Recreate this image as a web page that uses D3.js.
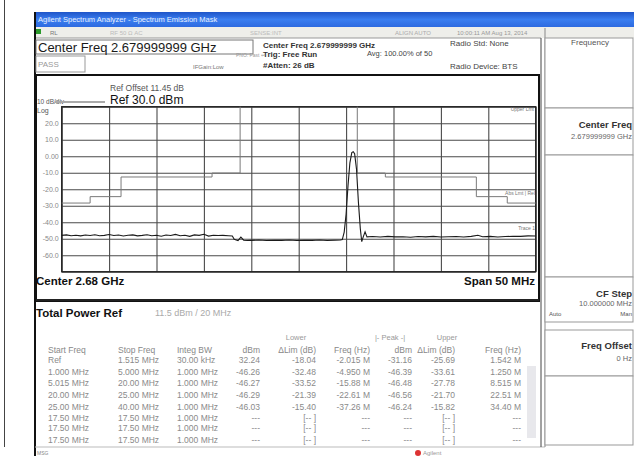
<!DOCTYPE html>
<html><head><meta charset="utf-8">
<script src="https://cdn.jsdelivr.net/npm/d3@7"></script>
<style>
body{margin:0;background:#fff}
svg{display:block}
text{font-family:"Liberation Sans",Arial,sans-serif}
</style>
</head><body>
<svg id="c" width="634" height="461"></svg>
<script>
// ---------------- DATA ----------------
const centerFreqMHz = 2680;
const spanMHz = 50;
const refLevelDbm = 30;
const dbPerDiv = 10;

const yTickValues = [20, 10, 0, -10, -20, -30, -40, -50, -60];
const yTickLabels = ["20.0", "10.0", "0.00", "-10.0", "-20.0", "-30.0", "-40.0", "-50.0", "-60.0"];
const xGridValues = [2655, 2660, 2665, 2670, 2675, 2680, 2685, 2690, 2695, 2700, 2705];
const yGridValues = [30, 20, 10, 0, -10, -20, -30, -40, -50, -60, -70];

// trace 1 (frequency MHz, level dBm)
const traceFreqMHz = [
 2655.0,2655.5,2656.0,2656.5,2657.0,2657.5,2658.0,2658.5,2659.0,2659.5,
 2660.0,2660.5,2661.0,2661.5,2662.0,2662.5,2663.0,2663.5,2664.0,2664.5,
 2665.0,2665.5,2666.0,2666.5,2667.0,2667.5,2668.0,2668.5,2669.0,2669.5,
 2670.0,2670.5,2671.0,2671.5,2672.0,2672.6,2673.0,2673.2,2673.6,2673.9,
 2674.2,2674.6,2675.0,2675.8,2676.6,2677.4,2678.2,2679.0,2679.8,2680.6,
 2681.4,2682.2,2683.0,2683.8,2684.4,2684.6,2684.8,2685.0,2685.2,2685.4,
 2685.6,2685.75,2685.9,2686.1,2686.3,2686.5,2686.65,2686.8,2687.0,2687.2,
 2687.8,2688.6,2689.4,2690.2,2691.0,2691.8,2692.6,2693.4,2694.2,2695.0,
 2695.8,2696.6,2697.4,2698.2,2698.9,2699.4,2700.2,2701.0,2701.8,2702.6,
 2703.4,2704.2,2705.0
];
const traceLevelDbm = [
 -48.0,-47.7,-48.2,-47.9,-48.3,-47.8,-48.1,-47.6,-48.2,-48.0,
 -47.5,-48.1,-47.8,-48.4,-47.9,-47.7,-48.3,-48.0,-47.6,-48.2,
 -47.9,-48.5,-47.8,-48.1,-47.4,-48.2,-47.9,-48.6,-47.7,-48.0,
 -47.3,-48.4,-47.9,-48.1,-48.0,-48.2,-48.4,-50.3,-51.2,-49.0,
 -50.9,-51.1,-51.0,-50.8,-51.1,-50.9,-51.0,-50.8,-51.1,-50.9,
 -51.0,-50.8,-51.1,-50.9,-50.8,-50.5,-46.0,-35.0,-18.0,-4.0,
 2.2,2.7,1.5,-8.0,-28.0,-44.0,-51.8,-49.0,-45.8,-48.9,
 -48.7,-49.0,-48.6,-48.9,-48.8,-49.1,-48.7,-48.9,-48.6,-49.0,
 -48.8,-48.7,-49.0,-48.6,-47.9,-48.8,-48.6,-49.0,-48.7,-48.5,
 -48.6,-48.3,-48.4
];

// spectrum emission mask limit lines (MHz, dBm)
const maskLowerFreq  = [2655.0, 2658.0, 2658.0, 2661.26, 2661.26, 2670.86, 2670.86, 2673.82, 2673.82];
const maskLowerLevel = [-28.4, -28.4, -24.5, -24.5, -12.6, -12.6, -10.2, -10.2, 30];
const maskUpperFreq  = [2686.18, 2686.18, 2689.14, 2689.14, 2698.74, 2698.74, 2702.0, 2702.0, 2705.0];
const maskUpperLevel = [30, -10.2, -10.2, -12.6, -12.6, -24.5, -24.5, -28.4, -28.4];

// result table
const tableGroupLabels = ["Lower", "|- Peak -|", "Upper"];
const tableHeaders = ["Start Freq", "Stop Freq", "Integ BW", "dBm", "\u0394Lim (dB)", "Freq (Hz)", "dBm", "\u0394Lim (dB)", "Freq (Hz)"];
const tableRows = [
 ["Ref",       "1.515 MHz", "30.00 kHz", "32.24",  "-18.04", "-2.015 M", "-31.16", "-25.69", "1.542 M"],
 ["1.000 MHz", "5.000 MHz", "1.000 MHz", "-46.26", "-32.48", "-4.950 M", "-46.39", "-33.61", "1.250 M"],
 ["5.015 MHz", "20.00 MHz", "1.000 MHz", "-46.27", "-33.52", "-15.88 M", "-46.48", "-27.78", "8.515 M"],
 ["20.00 MHz", "25.00 MHz", "1.000 MHz", "-46.29", "-21.39", "-22.61 M", "-46.56", "-21.70", "22.51 M"],
 ["25.00 MHz", "40.00 MHz", "1.000 MHz", "-46.03", "-15.40", "-37.26 M", "-46.24", "-15.82", "34.40 M"],
 ["17.50 MHz", "17.50 MHz", "1.000 MHz", "---", "[-- ]", "---", "---", "[-- ]", "---"],
 ["17.50 MHz", "17.50 MHz", "1.000 MHz", "---", "[-- ]", "---", "---", "[-- ]", "---"],
 ["17.50 MHz", "17.50 MHz", "1.000 MHz", "---", "[-- ]", "---", "---", "[-- ]", "---"]
];

// ---------------- DRAW ----------------
const svg = d3.select("#c");

function txt(x, y, s, size, opts) {
  opts = opts || {};
  const t = svg.append("text").attr("x", x).attr("y", y).text(s)
    .attr("font-size", size)
    .attr("fill", opts.fill || "#222")
    .attr("font-weight", opts.bold ? "bold" : "normal")
    .attr("text-anchor", opts.anchor || "start");
  if (opts.len) t.attr("textLength", opts.len).attr("lengthAdjust", "spacingAndGlyphs");
  return t;
}
function line(x1, y1, x2, y2, c, w) {
  svg.append("line").attr("x1", x1).attr("y1", y1).attr("x2", x2).attr("y2", y2)
    .attr("stroke", c).attr("stroke-width", w || 1);
}
function rect(x, y, w, h, fill, stroke, sw) {
  svg.append("rect").attr("x", x).attr("y", y).attr("width", w).attr("height", h)
    .attr("fill", fill || "none").attr("stroke", stroke || "none").attr("stroke-width", sw || 1);
}

// outer thin line at far left
line(4.5, 0, 4.5, 447, "#444", 1);

// window title bar
const defs = svg.append("defs");
const g1 = defs.append("linearGradient").attr("id", "tb").attr("x1", 0).attr("y1", 0).attr("x2", 0).attr("y2", 1);
g1.append("stop").attr("offset", "0").attr("stop-color", "#1f55c8");
g1.append("stop").attr("offset", "0.5").attr("stop-color", "#3a7ef0");
g1.append("stop").attr("offset", "1").attr("stop-color", "#2d6ae0");
rect(34, 12, 600, 15, "url(#tb)");
txt(38, 22, "Agilent Spectrum Analyzer - Spectrum Emission Mask", 7.5, {fill: "#e8f0ff"});

// toolbar / status row
rect(34, 27, 600, 11, "#eeeeea");
rect(36, 29, 5, 5, "#2a9a2a");
txt(50, 35, "RL", 6, {fill: "#777"});
txt(110, 35, "RF    50 \u03a9  AC", 6, {fill: "#bbb"});
txt(250, 35, "SENSE:INT", 6, {fill: "#bbb"});
txt(395, 35, "ALIGN AUTO", 6, {fill: "#aaa"});
txt(457, 35, "10:00:11 AM Aug 13, 2014", 6, {fill: "#999"});
line(34, 38, 541, 38, "#999", 1);

// screenshot left border
line(35, 12, 35, 456, "#111", 2);

// header area
rect(36, 40, 217, 14, "#fff", "#777", 1);
txt(38, 52, "Center Freq 2.679999999 GHz", 13, {fill: "#1a1a1a"});
rect(36, 56, 49, 16, "#fff", "#999", 1);
txt(38, 67, "PASS", 8, {fill: "#999"});
txt(193, 69, "IFGain:Low", 6, {fill: "#777"});
txt(236, 57, "PNO: Fast \u21b5", 5, {fill: "#999"});
txt(263, 48, "Center Freq 2.679999999 GHz", 8, {fill: "#333", bold: true});
txt(263, 57, "Trig: Free Run", 8, {fill: "#333", bold: true});
txt(263, 68, "#Atten: 26 dB", 8, {fill: "#333", bold: true});
txt(367, 56, "Avg: 100.00% of 50", 7.5, {fill: "#444"});
txt(450, 46, "Radio Std: None", 8, {fill: "#444"});
txt(450, 69, "Radio Device: BTS", 8, {fill: "#444"});

// graph frame
rect(36, 75, 503, 226, "none", "#111", 2);
line(36, 300, 539, 300, "#222", 2);

// plot scales
const x = d3.scaleLinear().domain([centerFreqMHz - spanMHz / 2, centerFreqMHz + spanMHz / 2]).range([61.7, 535.7]);
const y = d3.scaleLinear().domain([refLevelDbm - 10 * dbPerDiv, refLevelDbm]).range([271.7, 106.7]);

const plot = svg.append("g");
plot.append("rect").attr("x", x.range()[0]).attr("y", y.range()[1])
  .attr("width", x.range()[1] - x.range()[0]).attr("height", y.range()[0] - y.range()[1])
  .attr("fill", "#fff");

// grid via axes
const gx = plot.append("g").attr("transform", `translate(0,${y.range()[0]})`)
  .call(d3.axisBottom(x).tickValues(xGridValues).tickSize(-(y.range()[0] - y.range()[1])).tickFormat(""));
gx.select(".domain").remove();
gx.selectAll(".tick line").attr("stroke", "#4a4a4a").attr("stroke-width", 1.1);

const gy = plot.append("g").attr("transform", `translate(${x.range()[0]},0)`)
  .call(d3.axisLeft(y).tickValues(yGridValues).tickSize(-(x.range()[1] - x.range()[0])).tickFormat(""));
gy.select(".domain").remove();
gy.selectAll(".tick line").attr("stroke", "#4a4a4a").attr("stroke-width", 1.1);

// y labels
const gl = plot.append("g").attr("transform", `translate(${x.range()[0]},0)`)
  .call(d3.axisLeft(y).tickValues(yTickValues).tickSize(0).tickPadding(3)
    .tickFormat((d) => yTickLabels[yTickValues.indexOf(d)]));
gl.select(".domain").remove();
gl.selectAll(".tick text").attr("font-size", 7).attr("fill", "#888")
  .attr("font-family", "'Liberation Sans',Arial,sans-serif");

// plot border
plot.append("rect").attr("x", x.range()[0]).attr("y", y.range()[1])
  .attr("width", x.range()[1] - x.range()[0]).attr("height", y.range()[0] - y.range()[1])
  .attr("fill", "none").attr("stroke", "#222").attr("stroke-width", 1.3);

// mask lines
const mk = d3.line().x((d) => x(d[0])).y((d) => y(d[1]));
plot.append("path").datum(maskLowerFreq.map((f, i) => [f, maskLowerLevel[i]]))
  .attr("d", mk).attr("fill", "none").attr("stroke", "#7a7a7a").attr("stroke-width", 1);
plot.append("path").datum(maskUpperFreq.map((f, i) => [f, maskUpperLevel[i]]))
  .attr("d", mk).attr("fill", "none").attr("stroke", "#7a7a7a").attr("stroke-width", 1);

// trace
plot.append("path").datum(traceFreqMHz.map((f, i) => [f, traceLevelDbm[i]]))
  .attr("d", mk).attr("fill", "none").attr("stroke", "#1a1a1a").attr("stroke-width", 1.1);

// in-plot small labels
txt(534, 111, "Upper Lmt", 5, {fill: "#777", anchor: "end"});
txt(535, 195, "Abs Lmt | Rel", 5, {fill: "#777", anchor: "end"});
txt(535, 230, "Trace 1", 5, {fill: "#777", anchor: "end"});

// plot annotations
txt(110, 91, "Ref Offset 11.45 dB", 8.5, {fill: "#555"});
txt(110, 104, "Ref 30.0 dBm", 12, {fill: "#111"});
txt(37, 104, "10 dB/div", 6.5, {fill: "#555"});
rect(55, 101, 50, 2, "#aaa");
txt(37, 113, "Log", 7, {fill: "#555"});
txt(36, 285, "Center  2.68 GHz", 11.5, {fill: "#111", bold: true});
txt(535, 285, "Span 50 MHz", 11.5, {fill: "#111", bold: true, anchor: "end"});

// total power / table
txt(36, 317, "Total Power Ref", 11.5, {fill: "#111", bold: true});
txt(155, 316, "11.5 dBm /  20 MHz", 9, {fill: "#aaa"});

const groupX = [296, 390, 447];
tableGroupLabels.forEach((s, i) => txt(groupX[i], 340, s, 7.5, {fill: "#999", anchor: "middle"}));

const colX = [48, 118, 177, 260, 316, 370, 412, 455, 521];
const colAnchor = ["start", "start", "start", "end", "end", "end", "end", "end", "end"];
tableHeaders.forEach((s, i) => txt(colX[i], 353, s, 8.5, {fill: "#888", anchor: colAnchor[i]}));
const rowY = [363, 375, 386, 398, 410, 421, 431, 443];
tableRows.forEach((r, ri) => r.forEach((s, ci) =>
  txt(colX[ci], rowY[ri], s, 8.5, {fill: "#8a8a8a", anchor: colAnchor[ci]})));
rect(527, 366, 9, 72, "#e8e8ec");

// status bar
line(35, 447, 545, 447, "#bbb", 1);
txt(37, 455, "MSG", 5, {fill: "#888"});
svg.append("circle").attr("cx", 418).attr("cy", 453).attr("r", 3).attr("fill", "#d33");
txt(423, 455, "Agilent", 6, {fill: "#999"});

// right softkey panel
line(541, 38, 541, 447, "#444", 1);
line(545, 28, 545, 447, "#888", 1);
rect(545, 38, 88, 70, "#fff", "#999", 1);
txt(590, 45, "Frequency", 8, {fill: "#555", anchor: "middle"});
rect(545, 108, 88, 47, "#fff", "#999", 1);
txt(632, 128, "Center Freq", 9.5, {fill: "#333", bold: true, anchor: "end"});
txt(632, 139, "2.679999999 GHz", 7.5, {fill: "#666", anchor: "end"});
rect(545, 155, 88, 122, "#fff", "#999", 1);
rect(545, 277, 88, 45, "#fff", "#999", 1);
txt(632, 297, "CF Step", 9.5, {fill: "#333", bold: true, anchor: "end"});
txt(632, 306, "10.000000 MHz", 7.5, {fill: "#666", anchor: "end"});
txt(549, 316, "Auto", 6, {fill: "#555"});
txt(632, 316, "Man", 6, {fill: "#555", anchor: "end"});
rect(545, 330, 88, 46, "#fff", "#999", 1);
txt(632, 349, "Freq Offset", 9.5, {fill: "#333", bold: true, anchor: "end"});
txt(632, 361, "0 Hz", 7.5, {fill: "#666", anchor: "end"});
rect(545, 376, 88, 69, "#fff", "#999", 1);
</script>
</body></html>
